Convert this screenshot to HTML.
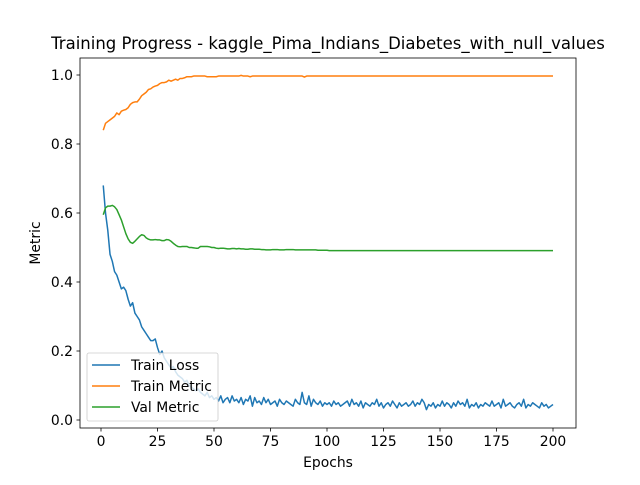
<!DOCTYPE html>
<html><head><meta charset="utf-8"><style>
body{margin:0;background:#fff;font-family:"Liberation Sans","DejaVu Sans",sans-serif}
svg text{font-family:"DejaVu Sans","Liberation Sans",sans-serif;fill:#000}
</style></head><body>
<svg id="chart" width="640" height="480" viewBox="0 0 640 480">
<rect width="640" height="480" fill="#fff"/>
<text x="328" y="49" font-size="16.5" text-anchor="middle">Training Progress - kaggle_Pima_Indians_Diabetes_with_null_values</text>
<g id="grid"></g>
<g id="plot"></g>
<rect x="80" y="58" width="496" height="370" fill="none" stroke="#000" stroke-width="0.8"/>
<g id="ticks"></g>
<text x="328" y="467" font-size="13.9" text-anchor="middle">Epochs</text>
<text x="40" y="243" font-size="13.9" text-anchor="middle" transform="rotate(-90 40 243)">Metric</text>
<g>
<rect x="87" y="353" width="131" height="68" rx="2" fill="#fff" fill-opacity="0.8" stroke="#ccc" stroke-width="0.8"/>
<g><line x1="92" y1="365" x2="120" y2="365" stroke="#1f77b4" stroke-width="1.5"/><text x="131" y="370" font-size="13.9">Train Loss</text></g>
<g><line x1="92" y1="386" x2="120" y2="386" stroke="#ff7f0e" stroke-width="1.5"/><text x="131" y="391" font-size="13.9">Train Metric</text></g>
<g><line x1="92" y1="407" x2="120" y2="407" stroke="#2ca02c" stroke-width="1.5"/><text x="131" y="412" font-size="13.9">Val Metric</text></g>
</g>
</svg>
<script>
const xTicks=[0,25,50,75,100,125,150,175,200];
const yTicks=[0.0,0.2,0.4,0.6,0.8,1.0];
const trainLoss=[0.68,0.60,0.55,0.48,0.46,0.43,0.42,0.40,0.38,0.385,0.375,0.35,0.33,0.34,0.31,0.30,0.29,0.27,0.26,0.25,0.24,0.23,0.23,0.235,0.21,0.19,0.20,0.18,0.17,0.16,0.15,0.155,0.14,0.13,0.125,0.12,0.11,0.115,0.10,0.095,0.09,0.085,0.09,0.08,0.075,0.07,0.08,0.065,0.07,0.06,0.065,0.055,0.07,0.05,0.06,0.065,0.05,0.07,0.055,0.06,0.05,0.065,0.045,0.06,0.055,0.07,0.04,0.065,0.05,0.055,0.045,0.065,0.05,0.06,0.045,0.05,0.055,0.04,0.06,0.05,0.045,0.055,0.05,0.045,0.04,0.06,0.05,0.045,0.08,0.05,0.045,0.07,0.04,0.06,0.05,0.045,0.055,0.04,0.05,0.045,0.05,0.04,0.055,0.045,0.05,0.04,0.045,0.05,0.055,0.04,0.06,0.045,0.05,0.04,0.055,0.035,0.05,0.045,0.04,0.05,0.045,0.06,0.04,0.05,0.035,0.045,0.05,0.04,0.055,0.045,0.035,0.05,0.04,0.045,0.05,0.04,0.045,0.055,0.04,0.05,0.045,0.06,0.05,0.03,0.045,0.04,0.05,0.035,0.045,0.04,0.055,0.04,0.05,0.045,0.035,0.05,0.04,0.055,0.045,0.05,0.04,0.06,0.035,0.045,0.04,0.05,0.035,0.045,0.04,0.05,0.045,0.04,0.055,0.04,0.045,0.05,0.035,0.06,0.04,0.045,0.05,0.04,0.035,0.045,0.05,0.04,0.06,0.035,0.045,0.04,0.05,0.045,0.04,0.035,0.05,0.04,0.045,0.035,0.04,0.045];
const trainMetric=[0.84,0.86,0.865,0.87,0.875,0.88,0.89,0.885,0.895,0.898,0.90,0.905,0.915,0.92,0.922,0.922,0.93,0.94,0.945,0.95,0.958,0.96,0.965,0.968,0.97,0.975,0.978,0.978,0.98,0.985,0.982,0.985,0.988,0.985,0.99,0.99,0.992,0.995,0.995,0.995,0.997,0.997,0.997,0.997,0.997,0.997,0.995,0.995,0.995,0.995,0.995,0.997,0.997,0.997,0.997,0.997,0.997,0.997,0.997,0.997,0.997,0.999,0.997,0.997,0.997,0.995,0.997,0.997,0.997,0.997,0.997,0.997,0.997,0.997,0.997,0.997,0.997,0.997,0.997,0.997,0.997,0.997,0.997,0.997,0.997,0.997,0.997,0.997,0.997,0.994,0.997,0.997,0.997,0.997,0.997,0.997,0.997,0.997,0.997,0.997,0.997,0.997,0.997,0.997,0.997,0.997,0.997,0.997,0.997,0.997,0.997,0.997,0.997,0.997,0.997,0.997,0.997,0.997,0.997,0.997,0.997,0.997,0.997,0.997,0.997,0.997,0.997,0.997,0.997,0.997,0.997,0.997,0.997,0.997,0.997,0.997,0.997,0.997,0.997,0.997,0.997,0.997,0.997,0.997,0.997,0.997,0.997,0.997,0.997,0.997,0.997,0.997,0.997,0.997,0.997,0.997,0.997,0.997,0.997,0.997,0.997,0.997,0.997,0.997,0.997,0.997,0.997,0.997,0.997,0.997,0.997,0.997,0.997,0.997,0.997,0.997,0.997,0.997,0.997,0.997,0.997,0.997,0.997,0.997,0.997,0.997,0.997,0.997,0.997,0.997,0.997,0.997,0.997,0.997,0.997,0.997,0.997,0.997,0.997,0.997];
const valMetric=[0.595,0.615,0.62,0.62,0.622,0.618,0.61,0.595,0.58,0.56,0.54,0.525,0.515,0.512,0.518,0.525,0.532,0.537,0.535,0.528,0.524,0.522,0.522,0.523,0.522,0.522,0.52,0.52,0.523,0.522,0.518,0.512,0.507,0.503,0.502,0.503,0.503,0.503,0.50,0.50,0.499,0.498,0.498,0.503,0.503,0.503,0.503,0.502,0.50,0.50,0.498,0.497,0.498,0.498,0.497,0.496,0.496,0.497,0.497,0.496,0.497,0.496,0.496,0.495,0.495,0.496,0.496,0.495,0.495,0.495,0.494,0.494,0.493,0.493,0.493,0.494,0.494,0.494,0.493,0.493,0.493,0.494,0.494,0.494,0.494,0.493,0.493,0.493,0.493,0.493,0.493,0.493,0.493,0.493,0.493,0.492,0.492,0.492,0.492,0.492,0.491,0.491,0.491,0.491,0.491,0.491,0.491,0.491,0.491,0.491,0.491,0.491,0.491,0.491,0.491,0.491,0.491,0.491,0.491,0.491,0.491,0.491,0.491,0.491,0.491,0.491,0.491,0.491,0.491,0.491,0.491,0.491,0.491,0.491,0.491,0.491,0.491,0.491,0.491,0.491,0.491,0.491,0.491,0.491,0.491,0.491,0.491,0.491,0.491,0.491,0.491,0.491,0.491,0.491,0.491,0.491,0.491,0.491,0.491,0.491,0.491,0.491,0.491,0.491,0.491,0.491,0.491,0.491,0.491,0.491,0.491,0.491,0.491,0.491,0.491,0.491,0.491,0.491,0.491,0.491,0.491,0.491,0.491,0.491,0.491,0.491,0.491,0.491,0.491,0.491,0.491,0.491,0.491,0.491,0.491,0.491,0.491,0.491,0.491,0.491];
const NS='http://www.w3.org/2000/svg';
const xS=v=>101+(v-0)*(553-101)/200;
const yS=v=>420-v*345;
const plot=document.getElementById('plot'),ticks=document.getElementById('ticks');
function mk(t,a,p){const e=document.createElementNS(NS,t);for(const k in a)e.setAttribute(k,a[k]);p.appendChild(e);return e;}
xTicks.forEach(v=>{
  const l=mk('line',{x1:xS(v),x2:xS(v),y1:428,y2:431.5,stroke:'#000','stroke-width':0.8},ticks);
  
  
  const t=mk('text',{x:xS(v),y:446,'font-size':13.9,'text-anchor':'middle'},ticks);t.textContent=v;
  
  
});
yTicks.forEach(v=>{
  const l=mk('line',{x1:76.5,x2:80,y1:yS(v),y2:yS(v),stroke:'#000','stroke-width':0.8},ticks);
  
  
  const t=mk('text',{x:73,y:yS(v)+5,'font-size':13.9,'text-anchor':'end'},ticks);t.textContent=v.toFixed(1);
  
  
});
[[trainLoss,'#1f77b4','train-loss-line'],[trainMetric,'#ff7f0e','train-metric-line'],[valMetric,'#2ca02c','val-metric-line']].forEach(([d,c,n])=>{
  const pts=d.slice(0,200);
  const p=mk('polyline',{points:pts.map((v,i)=>xS(i+1).toFixed(2)+','+yS(v).toFixed(2)).join(' '),fill:'none',stroke:c,'stroke-width':1.5,'stroke-linejoin':'round'},plot);
  
  
});
</script>
</body></html>
